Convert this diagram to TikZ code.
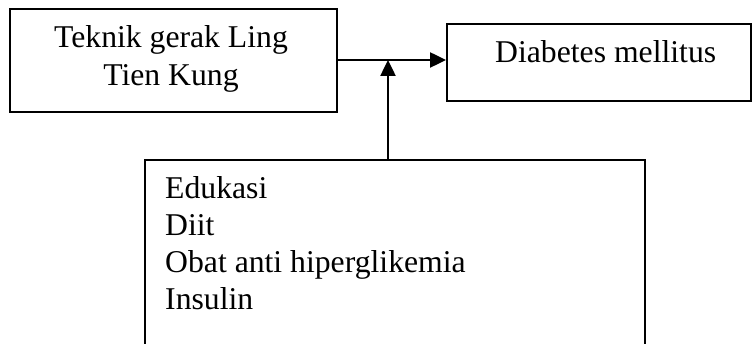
\documentclass[tikz,border=0pt]{standalone}
\usepackage{fontspec}
\setmainfont{Liberation Serif}
\usetikzlibrary{arrows.meta}
\begin{document}
\begin{tikzpicture}[x=1pt,y=-1pt,
  boxnode/.style={draw=black,line width=2pt,inner sep=0pt,anchor=north west},
  txt/.style={inner sep=0pt,font=\fontsize{31.7}{37}\selectfont},
  conn/.style={line width=2.5pt,-{Triangle[length=16pt,width=15pt]}}]
\useasboundingbox (0,0) rectangle (753,344);
\clip (0,0) rectangle (753,344);
% boxes
\node[boxnode,minimum width=327pt,minimum height=103pt] (b1) at (9,8) {};
\node[boxnode,minimum width=304pt,minimum height=77pt] (b2) at (446,23) {};
\node[boxnode,minimum width=500pt,minimum height=200pt] (b3) at (144,159) {};
% texts
\node[txt,anchor=base] (t1a) at (171,48) {Teknik gerak Ling};
\node[txt,anchor=base] (t1b) at (171,86) {Tien Kung};
\node[txt,anchor=base west] (t2) at (495,63) {Diabetes mellitus};
\node[txt,anchor=base west] (t3a) at (165,199) {Edukasi};
\node[txt,anchor=base west] (t3b) at (165,236) {Diit};
\node[txt,anchor=base west] (t3c) at (165,273) {Obat anti hiperglikemia};
\node[txt,anchor=base west] (t3d) at (165,310) {Insulin};
% connectors
\coordinate (j) at (388,60);
\draw[conn] (b1.east |- j) -- (b2.west |- j);
\draw[conn] (j |- b3.north) -- (j);
\end{tikzpicture}
\end{document}
